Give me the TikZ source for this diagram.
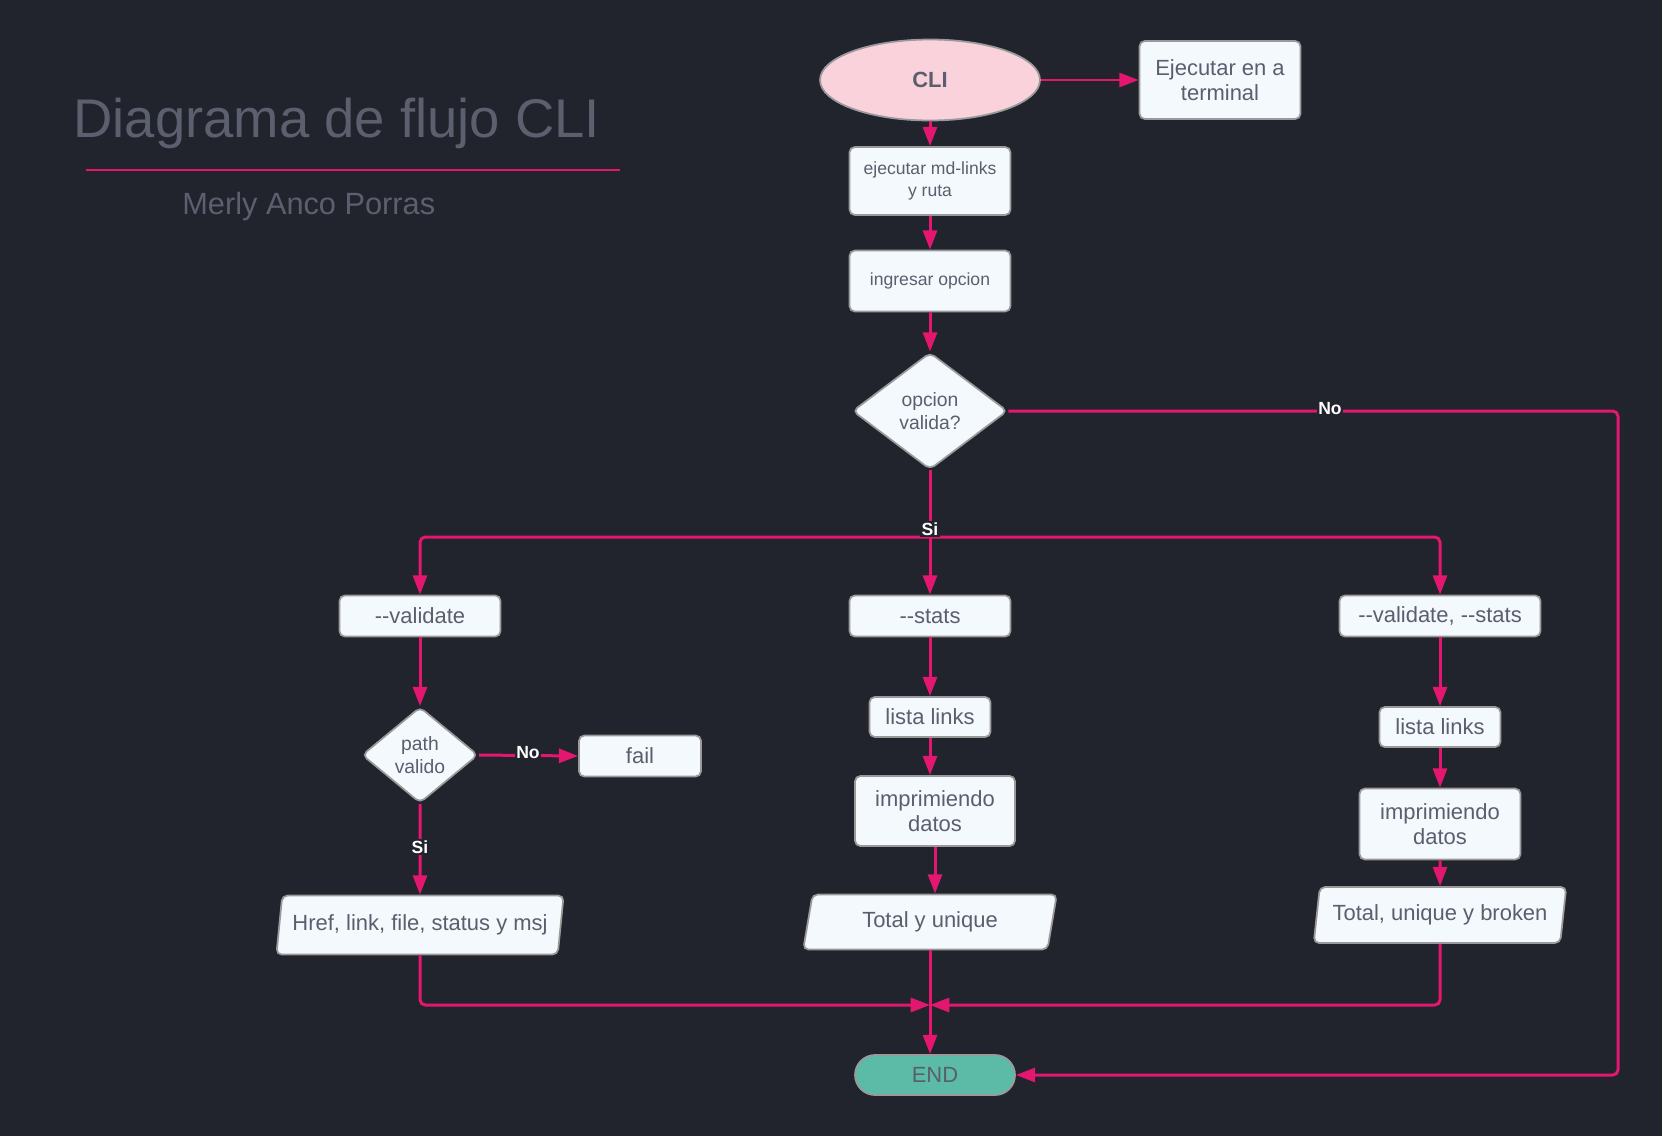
\documentclass[tikz,border=0pt]{standalone}
\usepackage{fontspec}
\setmainfont{Liberation Sans}
\usetikzlibrary{shapes.geometric, arrows.meta}

\definecolor{bgdark}{HTML}{21232D}
\definecolor{flowpink}{HTML}{E3176F}
\definecolor{boxfill}{HTML}{F4F9FE}
\definecolor{boxline}{HTML}{9A9A9A}
\definecolor{txtgrey}{HTML}{5A5F6E}
\definecolor{headgrey}{HTML}{5C606E}
\definecolor{clipink}{HTML}{FAD2DC}
\definecolor{endteal}{HTML}{5BBBA7}

\tikzset{
  procbox/.style={draw=boxline, fill=boxfill, line width=1pt, rounded corners=3pt,
    text=txtgrey, align=center, inner sep=1pt, font=\fontsize{12.5}{14.5}\selectfont},
  smallbox/.style={procbox, font=\fontsize{10}{12.5}\selectfont},
  decide/.style={diamond, draw=boxline, fill=boxfill, line width=1pt, rounded corners=3pt,
    text=txtgrey, align=center, inner sep=0pt, font=\fontsize{11}{13}\selectfont},
  iobox/.style={procbox, trapezium, trapezium left angle=77, trapezium right angle=103,
    trapezium stretches=true},
  flow/.style={draw=flowpink, line width=1.7pt, rounded corners=3pt,
    -{Triangle[length=11pt,width=8pt]}},
  tag/.style={fill=bgdark, text=white, inner sep=1pt, font=\bfseries\fontsize{10}{12}\selectfont},
}

\begin{document}
\begin{tikzpicture}[x=0.02cm, y=-0.02cm]
  \fill[bgdark] (0,0) rectangle (1662,1136);

  % title block
  \node[inner sep=0, anchor=base west, text=headgrey, font=\fontsize{31}{34}\selectfont]
    (title) at (73,137) {Diagrama de flujo CLI};
  \draw[flowpink, line width=1.7pt] (86,170) -- (620,170);
  \node[inner sep=0, anchor=base west, text=headgrey, font=\fontsize{17.5}{20}\selectfont]
    (author) at (182,214) {Merly Anco Porras};

  % main column
  \node[ellipse, draw=boxline, fill=clipink, line width=1pt, text=txtgrey,
    minimum width=4.4cm, minimum height=1.62cm, font=\bfseries\fontsize{12.5}{14}\selectfont]
    (cli) at (930,80) {CLI};
  \node[procbox, minimum width=3.22cm, minimum height=1.56cm] (term) at (1220,80) {Ejecutar en a\\terminal};
  \node[smallbox, minimum width=3.22cm, minimum height=1.36cm] (ejec) at (930,181) {ejecutar md-links\\y ruta};
  \node[smallbox, minimum width=3.22cm, minimum height=1.22cm] (ingr) at (930,281) {ingresar opcion};
  \node[decide, minimum width=3.1cm, minimum height=2.34cm] (opc) at (930,411) {opcion\\valida?};

  % options
  \node[procbox, minimum width=3.22cm, minimum height=0.82cm] (val) at (420,616) {-{}-validate};
  \node[procbox, minimum width=3.22cm, minimum height=0.82cm] (stats) at (930,616) {-{}-stats};
  \node[procbox, minimum width=4.02cm, minimum height=0.82cm] (both) at (1440,616) {-{}-validate, -{}-stats};

  % validate branch
  \node[decide, minimum width=2.32cm, minimum height=1.92cm] (path) at (420,755) {path\\valido};
  \node[procbox, minimum width=2.44cm, minimum height=0.82cm] (fail) at (640,756) {fail};
  \node[iobox, minimum width=5.76cm, minimum height=1.18cm] (href) at (420,925) {Href, link, file, status y msj};

  % stats branch
  \node[procbox, minimum width=2.42cm, minimum height=0.8cm] (list1) at (930,717) {lista links};
  \node[procbox, minimum width=3.2cm, minimum height=1.4cm] (impr1) at (935,811) {imprimiendo\\datos};
  \node[iobox, minimum width=5.08cm, minimum height=1.1cm] (tot1) at (930,922) {Total y unique};

  % validate + stats branch
  \node[procbox, minimum width=2.42cm, minimum height=0.8cm] (list2) at (1440,727) {lista links};
  \node[procbox, minimum width=3.22cm, minimum height=1.42cm] (impr2) at (1440,824) {imprimiendo\\datos};
  \node[iobox, minimum width=5.06cm, minimum height=1.12cm] (tot2) at (1440,915) {Total, unique y broken};

  \node[procbox, fill=endteal, rounded corners=0.4cm, minimum width=3.2cm, minimum height=0.8cm]
    (endn) at (935,1075) {END};

  % connectors
  \draw[flow] (cli.east) -- (term.west);
  \draw[flow] (cli.south) -- (ejec.north);
  \draw[flow] (ejec.south) -- (ingr.north);
  \draw[flow] (ingr.south) -- (opc.north);

  \coordinate (split) at (930,537);
  \draw[flow, -] (opc.south) -- (split);
  \draw[flow] (split) -| (val.north);
  \draw[flow] (split) -- (stats.north);
  \draw[flow] (split) -| (both.north);
  \node[tag] (si1) at (930,529) {Si};

  \coordinate (noturn) at (1618,411);
  \draw[flow] (opc.east) -- (noturn) |- (endn.east);
  \node[tag] (no1) at (1330,409) {No};

  \draw[flow] (val.south) -- (path.north);
  \draw[flow] (path.east) -- (fail.west);
  \node[tag] (no2) at (528,753) {No};
  \draw[flow] (path.south) -- (href.north);
  \node[tag] (si2) at (420,847) {Si};

  \draw[flow] (stats.south) -- (list1.north);
  \draw[flow] (list1.south) -- (list1.south |- impr1.north);
  \draw[flow] (impr1.south) -- (impr1.south |- tot1.north);

  \draw[flow] (both.south) -- (list2.north);
  \draw[flow] (list2.south) -- (impr2.north);
  \draw[flow] (impr2.south) -- (tot2.north);

  \coordinate (join) at (930,1005);
  \draw[flow] (href.south) |- (join);
  \draw[flow] (tot2.south) |- (join);
  \draw[flow] (tot1.south) -- (tot1.south |- endn.north);
\end{tikzpicture}
\end{document}
